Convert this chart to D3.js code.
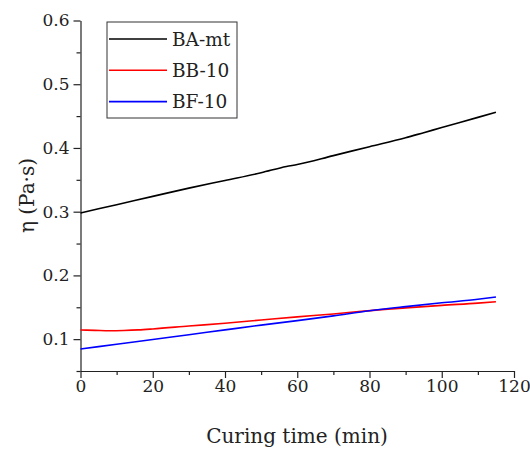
<!DOCTYPE html>
<html>
<head>
<meta charset="utf-8">
<script src="https://cdn.jsdelivr.net/npm/d3@7"></script>
<style>
  body { margin: 0; background: #fff; }
  svg text { font-family: "DejaVu Serif", "Liberation Serif", serif; fill: #222; }
</style>
</head>
<body>
<div id="chart"></div>
<script>
// curing time (min) and viscosity (Pa·s)
var timeBA = [0, 10, 20, 30, 40, 50, 57, 60, 70, 80, 90, 95, 100, 110, 115];
var etaBA  = [0.298, 0.311, 0.324, 0.337, 0.349, 0.361, 0.371, 0.374, 0.388, 0.402, 0.416, 0.424, 0.432, 0.448, 0.456];

var timeBB = [0, 4, 8, 12, 16, 20, 30, 40, 50, 60, 70, 78.5, 90, 100, 110, 115];
var etaBB  = [0.1143, 0.1138, 0.1132, 0.1136, 0.1145, 0.1160, 0.1206, 0.1250, 0.1300, 0.1350, 0.1395, 0.1440, 0.1490, 0.1530, 0.1565, 0.1587];

var timeBF = [0, 10, 20, 30, 40, 50, 60, 70, 80, 90, 100, 110, 115];
var etaBF  = [0.0845, 0.092, 0.0995, 0.107, 0.1145, 0.122, 0.129, 0.1365, 0.1445, 0.151, 0.157, 0.1625, 0.166];

var seriesNames = ["BA-mt", "BB-10", "BF-10"];
var seriesColors = ["#000000", "#ff0000", "#0000ff"];

var xTicks = [0, 20, 40, 60, 80, 100, 120];
var yTicks = [0.1, 0.2, 0.3, 0.4, 0.5, 0.6];

var width = 530, height = 452;

var svg = d3.select("#chart").append("svg")
    .attr("width", width)
    .attr("height", height);

var x = d3.scaleLinear().domain([0, 120]).range([80.5, 514]);
var y = d3.scaleLinear().domain([0.05, 0.6]).range([371, 20.5]);

var series = [
    { name: seriesNames[0], color: seriesColors[0], t: timeBA, v: etaBA },
    { name: seriesNames[1], color: seriesColors[1], t: timeBB, v: etaBB },
    { name: seriesNames[2], color: seriesColors[2], t: timeBF, v: etaBF }
];

var line = d3.line()
    .x(d => x(d[0]))
    .y(d => y(d[1]))
    .curve(d3.curveMonotoneX);

// minor ticks first, then major axes on top
svg.append("g")
    .attr("transform", "translate(0,371)")
    .call(d3.axisBottom(x).tickValues(d3.range(10, 120, 20)).tickSize(4).tickFormat(""))
    .call(g => g.select(".domain").remove())
    .selectAll("line").attr("stroke", "#222").attr("stroke-width", 1.2);

svg.append("g")
    .attr("transform", "translate(80.5,0)")
    .call(d3.axisLeft(y).tickValues([0.05, 0.15, 0.25, 0.35, 0.45, 0.55]).tickSize(4).tickFormat(""))
    .call(g => g.select(".domain").remove())
    .selectAll("line").attr("stroke", "#222").attr("stroke-width", 1.2);

var xAxis = svg.append("g")
    .attr("transform", "translate(0,371)")
    .call(d3.axisBottom(x).tickValues(xTicks).tickSize(7).tickSizeOuter(0).tickPadding(2));

var yAxis = svg.append("g")
    .attr("transform", "translate(80.5,0)")
    .call(d3.axisLeft(y).tickValues(yTicks).tickSize(7).tickSizeOuter(0).tickPadding(4).tickFormat(d3.format(".1f")));

[xAxis, yAxis].forEach(function(g) {
    g.select(".domain").attr("stroke", "#222").attr("stroke-width", 1.2);
    g.selectAll(".tick line").attr("stroke", "#222").attr("stroke-width", 1.2);
    g.selectAll(".tick text").attr("font-size", 17).attr("fill", "#222");
});

svg.append("g").selectAll("path")
    .data(series)
    .join("path")
    .attr("d", d => line(d.t.map((t, i) => [t, d.v[i]])))
    .attr("fill", "none")
    .attr("stroke", d => d.color)
    .attr("stroke-width", 1.6);

// legend
var legend = svg.append("g");
legend.append("rect")
    .attr("x", 107).attr("y", 22)
    .attr("width", 130).attr("height", 96)
    .attr("fill", "#fff")
    .attr("stroke", "#333")
    .attr("stroke-width", 1);

var legendRow = legend.selectAll("g.row")
    .data(series)
    .join("g")
    .attr("class", "row")
    .attr("transform", (d, i) => "translate(0," + (39 + i * 31.3) + ")");

legendRow.append("line")
    .attr("x1", 109).attr("x2", 167)
    .attr("stroke", d => d.color)
    .attr("stroke-width", 1.6);

legendRow.append("text")
    .attr("x", 172).attr("y", 6.5)
    .attr("font-size", 18.5)
    .text(d => d.name);

// axis titles
svg.append("text")
    .attr("x", 297).attr("y", 443)
    .attr("text-anchor", "middle")
    .attr("font-size", 20)
    .text("Curing time (min)");

svg.append("text")
    .attr("transform", "translate(34,195.5) rotate(-90)")
    .attr("text-anchor", "middle")
    .attr("font-size", 20)
    .text("η (Pa·s)");
</script>
</body>
</html>
